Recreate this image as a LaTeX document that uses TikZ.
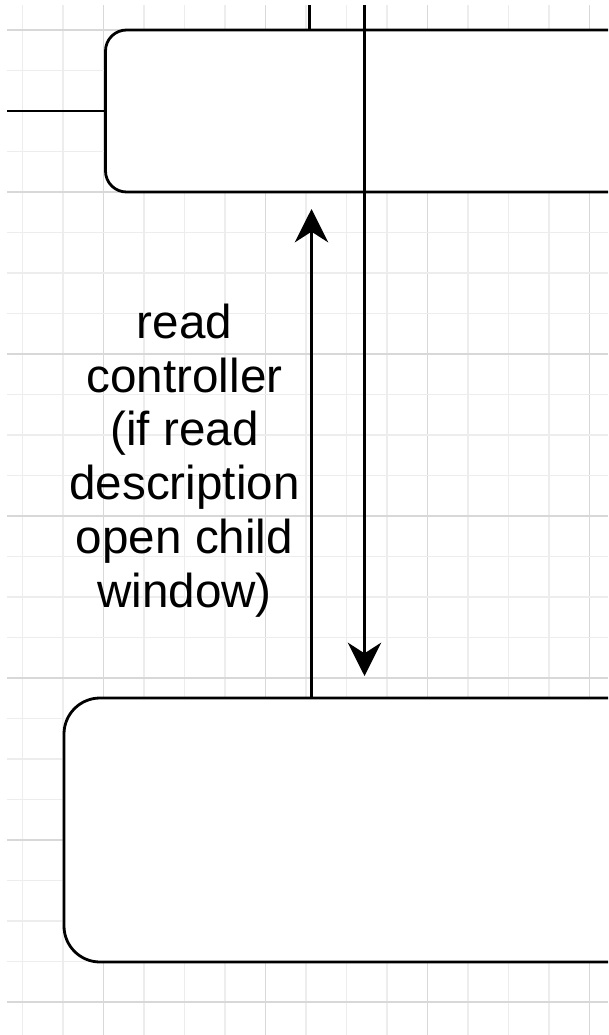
\documentclass[tikz,border=0pt]{standalone}
\usepackage{fontspec}
\setmainfont{Liberation Sans}
\usetikzlibrary{arrows.meta}
\definecolor{gridminor}{HTML}{EDEDED}
\definecolor{gridmajor}{HTML}{D8D8D8}
\tikzset{
  gridmin/.style={draw=gridminor, line width=1.2pt},
  gridmaj/.style={draw=gridmajor, line width=1.2pt},
  boxshape/.style={draw=black, fill=white, line width=2.1pt, inner sep=0pt, outer sep=0pt},
  conn/.style={draw=black, line width=2.1pt},
  tipped/.style={conn, -{Stealth[length=25pt, width=25pt, inset=8pt]}},
  label/.style={inner sep=0pt, align=center, font=\fontsize{35.7}{40.4}\selectfont}
}
\begin{document}
\begin{tikzpicture}[x=0.75pt, y=-0.75pt]
\useasboundingbox (0,0) rectangle (608,1035);
\clip (0,0) rectangle (608,1035);
\fill[white] (0,0) rectangle (608,1035);
% grid
\foreach \k in {0,...,14}{
  \pgfmathsetmacro{\gx}{22.5+40.5*\k}
  \pgfmathtruncatemacro{\gm}{mod(\k,4)}
  \ifnum\gm=2
    \draw[gridmaj] (\gx,5) -- (\gx,1035);
  \else
    \draw[gridmin] (\gx,5) -- (\gx,1035);
  \fi
}
\foreach \k in {0,...,24}{
  \pgfmathsetmacro{\gy}{30+40.5*\k}
  \pgfmathtruncatemacro{\gm}{mod(\k,4)}
  \ifnum\gm=0
    \draw[gridmaj] (7,\gy) -- (608,\gy);
  \else
    \draw[gridmin] (7,\gy) -- (608,\gy);
  \fi
}
% boxes
\node[boxshape, rounded corners=15.75pt, minimum width=415.9pt, minimum height=121.5pt] (topbox) at (382.75,111) {};
\node[boxshape, rounded corners=27pt, minimum width=447pt, minimum height=198pt] (botbox) at (362,830) {};
% free ends
\coordinate (leftend) at (7,111);
\coordinate (shorttop) at (309.5,5);
\coordinate (longtop) at (364.5,5);
% connectors
\draw[conn] (leftend) -- (topbox.west);
\draw[conn] (shorttop) -- (shorttop |- topbox.north);
\draw[tipped, shorten >=16.5pt] (longtop) -- (longtop |- botbox.north);
\draw[tipped, shorten >=12.75pt] (botbox.north -| 311.5,0) -- (topbox.south -| 311.5,0);
% label
\node[label] (lbl) at (184.5,460.5) {read\\controller\\(if read\\description\\open child\\window)};
\end{tikzpicture}
\end{document}
